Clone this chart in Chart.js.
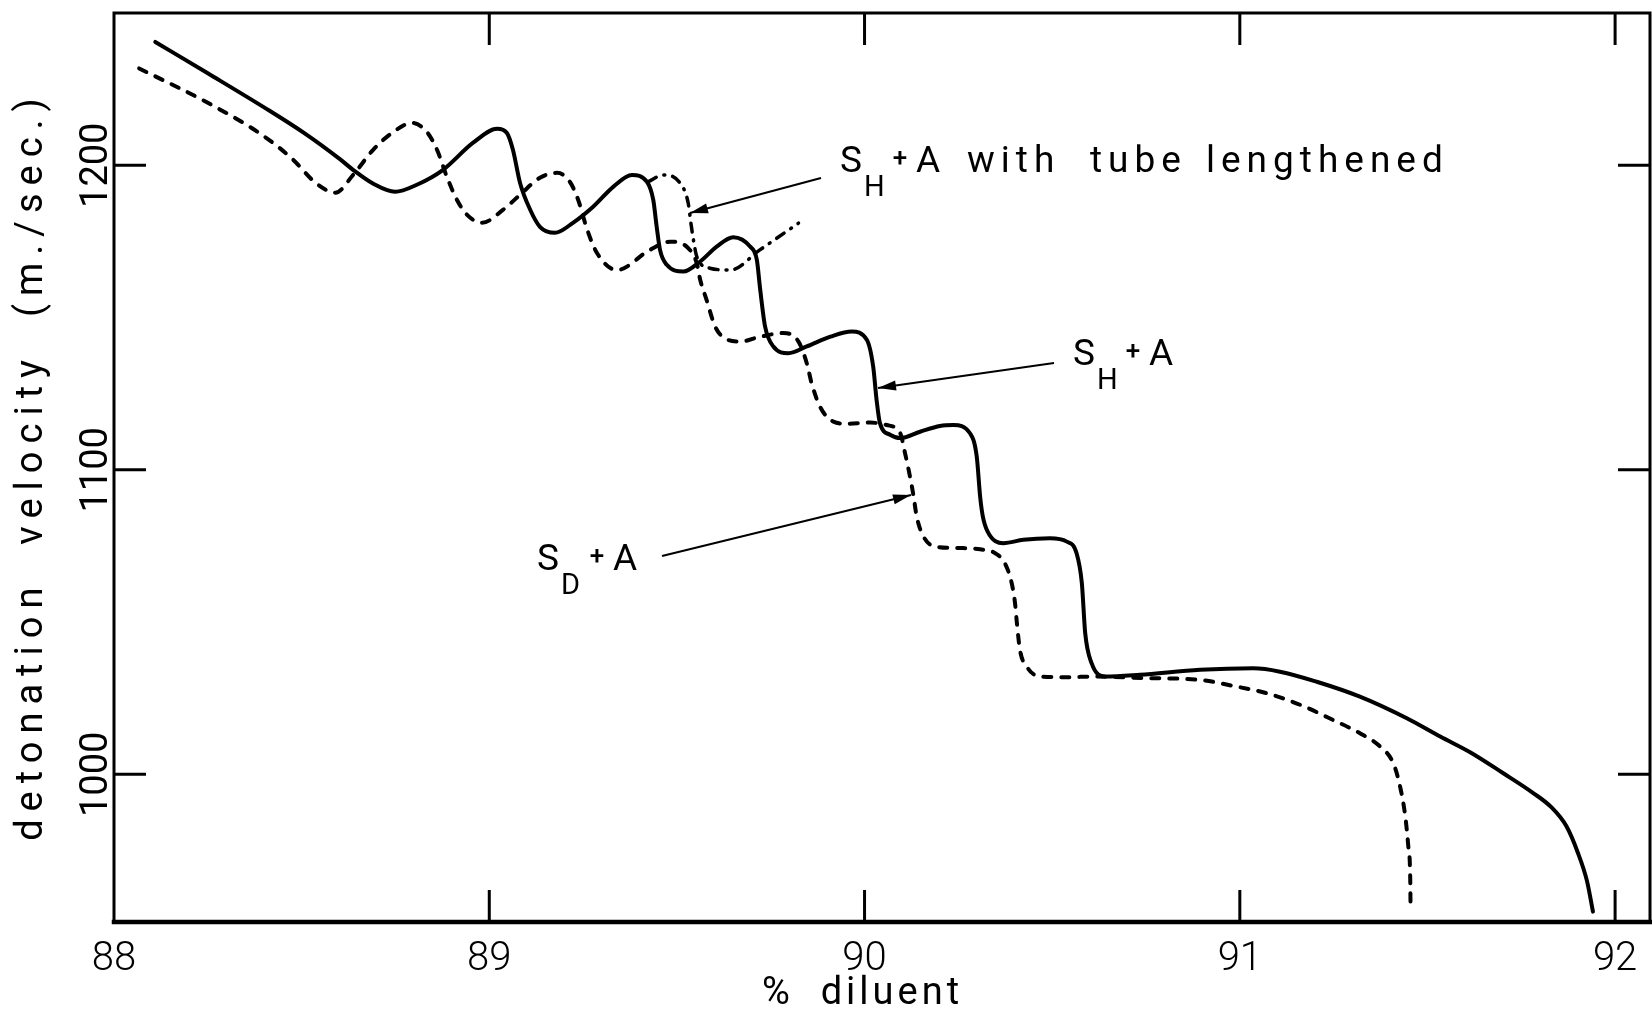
<!DOCTYPE html>
<html>
<head>
<meta charset="utf-8">
<title>detonation velocity vs % diluent</title>
<script src="https://cdn.jsdelivr.net/npm/chart.js@4.4.1/dist/chart.umd.min.js"></script>
<style>
  html, body { margin: 0; padding: 0; background: #fff; }
  #wrap { width: 1652px; height: 1010px; position: relative; }
</style>
</head>
<body>
<div id="wrap"><canvas id="chart"></canvas></div>
<script>
// % diluent (x) and detonation velocity in m./sec. (y)

// S_H + A (solid)
const shDiluent = [88.11, 88.25, 88.40, 88.51, 88.602, 88.637, 88.69, 88.749, 88.807, 88.877, 88.957,
  89.021, 89.047, 89.063, 89.082, 89.109, 89.135, 89.175, 89.223, 89.276, 89.331,
  89.38, 89.42, 89.437, 89.446, 89.455, 89.473, 89.517, 89.562, 89.606, 89.65,
  89.695, 89.713, 89.722, 89.735, 89.757, 89.797, 89.846, 89.909, 89.966, 90.006,
  90.023, 90.032, 90.041, 90.068, 90.095, 90.148, 90.201, 90.237, 90.281, 90.299,
  90.308, 90.315, 90.328, 90.37, 90.423, 90.494, 90.539, 90.565, 90.579, 90.588,
  90.605, 90.641, 90.734, 90.894, 91.036, 91.107, 91.205, 91.32, 91.445, 91.534,
  91.617, 91.70, 91.78, 91.83, 91.87, 91.90, 91.925, 91.941];
const shVelocity = [1240.5, 1230.2, 1219.0, 1210.3, 1202.0, 1198.5, 1194.0, 1191.3, 1193.6, 1198.5, 1207.4,
  1212.0, 1210.6, 1205.1, 1194.2, 1185.4, 1179.8, 1177.8, 1181.1, 1186.3, 1193.0,
  1196.8, 1194.6, 1188.6, 1179.9, 1172.2, 1167.3, 1165.1, 1168.4, 1173.3, 1176.4,
  1173.3, 1168.9, 1159.1, 1147.0, 1140.5, 1138.3, 1140.5, 1143.7, 1145.4, 1142.7,
  1133.9, 1123.0, 1115.3, 1111.5, 1110.4, 1112.5, 1114.4, 1114.7, 1112.0, 1104.3,
  1091.2, 1084.8, 1079.7, 1075.9, 1077.0, 1077.5, 1076.4, 1072.6, 1062.8, 1046.3,
  1036.5, 1032.1, 1032.7, 1034.3, 1034.8, 1033.7, 1030.4, 1025.5, 1018.4, 1012.4,
  1007.0, 1000.5, 994.0, 989.2, 983.0, 974.5, 965.0, 954.9];

// S_D + A (dashed)
const sdDiluent = [88.067, 88.25, 88.40, 88.48, 88.53, 88.57, 88.59, 88.637, 88.69, 88.744, 88.794, 88.834,
  88.861, 88.887, 88.914, 88.941, 88.981, 89.037, 89.082, 89.135, 89.181, 89.215,
  89.237, 89.261, 89.287, 89.34, 89.428, 89.482, 89.53, 89.553, 89.562, 89.579,
  89.602, 89.63, 89.668, 89.722, 89.784, 89.824, 89.846, 89.859, 89.881, 89.917,
  89.953, 90.015, 90.059, 90.095, 90.108, 90.121, 90.13, 90.139, 90.157, 90.188,
  90.254, 90.308, 90.348, 90.374, 90.392, 90.401, 90.406, 90.414, 90.432, 90.468,
  90.539, 90.61, 90.75, 90.894, 90.983, 91.072, 91.161, 91.249, 91.32, 91.374,
  91.409, 91.427, 91.441, 91.449, 91.454, 91.455];
const sdVelocity = [1231.8, 1220.5, 1209.5, 1201.5, 1195.0, 1191.6, 1191.0, 1196.8, 1205.0, 1210.9, 1213.9, 1210.9,
  1205.0, 1196.2, 1188.6, 1183.7, 1181.1, 1185.4, 1190.3, 1195.9, 1197.5, 1194.5,
  1188.6, 1178.8, 1171.2, 1165.6, 1172.2, 1174.9, 1172.8, 1167.8, 1162.4, 1155.8,
  1147.0, 1143.0, 1142.1, 1143.7, 1144.9, 1142.1, 1135.0, 1128.4, 1120.8, 1115.8,
  1115.1, 1115.5, 1114.7, 1112.0, 1105.4, 1097.8, 1091.8, 1084.6, 1078.1, 1074.8,
  1074.3, 1073.9, 1072.6, 1069.3, 1062.8, 1056.2, 1049.6, 1040.9, 1035.4, 1032.1,
  1031.9, 1032.1, 1031.6, 1031.0, 1029.0, 1026.6, 1022.8, 1017.8, 1013.5, 1009.1,
  1003.6, 996.0, 986.1, 976.3, 966.4, 955.5];

// S_H + A with tube lengthened (dash-dot)
const tubeDiluent = [89.424, 89.463, 89.508, 89.53, 89.538, 89.544, 89.553, 89.588, 89.642, 89.721, 89.824];
const tubeVelocity = [1194.6, 1196.8, 1194.2, 1187.6, 1180.4, 1175.5, 1170.0, 1166.2, 1165.6, 1172.2, 1181.0];

const xTicks = [88, 89, 90, 91, 92];
const yTicks = [1000, 1100, 1200];
const xTitle = "%  diluent";
const yTitle = "detonation  velocity  (m./sec.)";

function toPoints(xs, ys) {
    return xs.map((v, i) => ({ x: v, y: ys[i] }));
}

const FONT = "Roboto, 'DejaVu Sans', sans-serif";

// draw a curve label like S_H + A, then the rest of the words
function drawLabel(ctx, x, base, sub, words) {
    ctx.save();
    ctx.fillStyle = "#000";
    ctx.textBaseline = "alphabetic";
    ctx.textAlign = "left";
    ctx.font = "400 37px " + FONT;
    ctx.fillText("S", x, base);
    ctx.font = "400 29px " + FONT;
    ctx.fillText(sub, x + 24, base + 24);
    ctx.font = "500 26px " + FONT;
    ctx.textAlign = "center";
    ctx.fillText("+", x + 60, base - 6);
    ctx.textAlign = "left";
    ctx.font = "400 37px " + FONT;
    ctx.fillText("A", x + 76, base);
    if (words) {
        ctx.letterSpacing = "6px";
        words.forEach(w => ctx.fillText(w.text, w.x, base));
    }
    ctx.restore();
}

function drawArrow(ctx, x1, y1, x2, y2) {
    const ang = Math.atan2(y2 - y1, x2 - x1);
    ctx.save();
    ctx.strokeStyle = "#000";
    ctx.fillStyle = "#000";
    ctx.lineWidth = 2;
    ctx.beginPath();
    ctx.moveTo(x1, y1);
    ctx.lineTo(x2, y2);
    ctx.stroke();
    ctx.beginPath();
    ctx.moveTo(x2, y2);
    ctx.lineTo(x2 - 18 * Math.cos(ang) + 5 * Math.sin(ang), y2 - 18 * Math.sin(ang) - 5 * Math.cos(ang));
    ctx.lineTo(x2 - 18 * Math.cos(ang) - 5 * Math.sin(ang), y2 - 18 * Math.sin(ang) + 5 * Math.cos(ang));
    ctx.closePath();
    ctx.fill();
    ctx.restore();
}

// frame, inward ticks, rotated y labels, titles and annotations
const framePlugin = {
    id: "frame",
    afterDatasetsDraw(chart) {
        const { ctx, chartArea: a, scales: { x, y } } = chart;
        ctx.save();
        ctx.strokeStyle = "#000";
        ctx.lineCap = "square";

        ctx.lineWidth = 3;
        ctx.beginPath();
        ctx.moveTo(a.left, a.bottom);
        ctx.lineTo(a.left, a.top);
        ctx.lineTo(a.right, a.top);
        ctx.lineTo(a.right, a.bottom);
        ctx.stroke();
        ctx.lineWidth = 4.5;
        ctx.beginPath();
        ctx.moveTo(a.left, a.bottom);
        ctx.lineTo(a.right, a.bottom);
        ctx.stroke();

        ctx.lineWidth = 3;
        ctx.lineCap = "butt";
        ctx.beginPath();
        xTicks.forEach(v => {
            const px = x.getPixelForValue(v);
            if (px < a.left + 3) return;
            ctx.moveTo(px, a.bottom);
            ctx.lineTo(px, a.bottom - 32);
            ctx.moveTo(px, a.top);
            ctx.lineTo(px, a.top + 32);
        });
        yTicks.forEach(v => {
            const py = y.getPixelForValue(v);
            ctx.moveTo(a.left, py);
            ctx.lineTo(a.left + 32, py);
            ctx.moveTo(a.right, py);
            ctx.lineTo(a.right - 32, py);
        });
        ctx.stroke();

        ctx.fillStyle = "#000";
        ctx.font = "400 38px " + FONT;
        ctx.textAlign = "center";
        ctx.textBaseline = "alphabetic";
        yTicks.forEach(v => {
            const py = y.getPixelForValue(v);
            ctx.save();
            ctx.translate(a.left - 7, py);
            ctx.rotate(-Math.PI / 2);
            ctx.fillText(String(v), 0, 0);
            ctx.restore();
        });

        // axis titles
        ctx.save();
        ctx.letterSpacing = "8px";
        ctx.translate(42, (a.top + a.bottom) / 2 - 2);
        ctx.rotate(-Math.PI / 2);
        ctx.fillText(yTitle, 0, 0);
        ctx.restore();

        ctx.save();
        ctx.letterSpacing = "4px";
        ctx.fillText(xTitle, x.getPixelForValue(90) - 2, 1004);
        ctx.restore();
        ctx.restore();

        // curve annotations
        drawLabel(ctx, 840, 172, "H", [
            { text: "with", x: 967 },
            { text: "tube", x: 1090 },
            { text: "lengthened", x: 1206 }
        ]);
        drawArrow(ctx, 821, 178, 690, 213);

        drawLabel(ctx, 1073, 365, "H");
        drawArrow(ctx, 1054, 363, 878, 388);

        drawLabel(ctx, 537, 570, "D");
        drawArrow(ctx, 662, 556, 911, 495);
    }
};

const ctx = document.getElementById("chart").getContext("2d");

new Chart(ctx, {
    type: "line",
    data: {
        datasets: [
            {
                label: "S_H + A",
                data: toPoints(shDiluent, shVelocity),
                borderColor: "#000",
                borderWidth: 4,
                pointRadius: 0,
                fill: false,
                cubicInterpolationMode: "monotone",
                borderCapStyle: "round",
                borderJoinStyle: "round"
            },
            {
                label: "S_D + A",
                data: toPoints(sdDiluent, sdVelocity),
                borderColor: "#000",
                borderWidth: 4,
                borderDash: [8, 10],
                borderCapStyle: "round",
                pointRadius: 0,
                fill: false,
                cubicInterpolationMode: "monotone"
            },
            {
                label: "S_H + A with tube lengthened",
                data: toPoints(tubeDiluent, tubeVelocity),
                borderColor: "#000",
                borderWidth: 3.5,
                borderDash: [9, 8, 1, 8],
                borderCapStyle: "round",
                pointRadius: 0,
                fill: false,
                cubicInterpolationMode: "monotone"
            }
        ]
    },
    options: {
        responsive: true,
        maintainAspectRatio: false,
        animation: false,
        devicePixelRatio: 1,
        layout: { padding: { top: 13, right: 2, left: 0, bottom: 0 } },
        plugins: {
            legend: { display: false },
            tooltip: { enabled: false }
        },
        scales: {
            x: {
                type: "linear",
                min: 88,
                max: 92.093,
                afterBuildTicks: s => { s.ticks = xTicks.map(v => ({ value: v })); },
                afterFit: s => { s.height = 88; },
                grid: { display: false },
                border: { display: false },
                ticks: {
                    color: "#000",
                    padding: 6,
                    maxRotation: 0,
                    font: { family: FONT, size: 40, weight: 300 }
                }
            },
            y: {
                type: "linear",
                min: 951.5,
                max: 1250,
                afterBuildTicks: s => { s.ticks = yTicks.map(v => ({ value: v })); },
                afterFit: s => { s.width = 114; },
                grid: { display: false },
                border: { display: false },
                ticks: { display: false }
            }
        }
    },
    plugins: [framePlugin]
});
</script>
</body>
</html>
